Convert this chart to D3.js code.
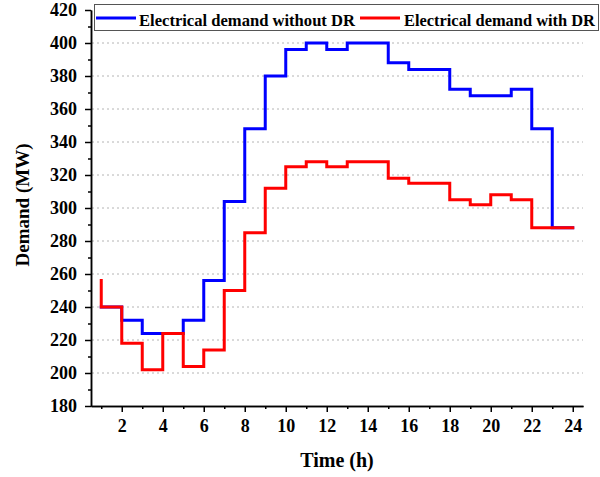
<!DOCTYPE html>
<html><head><meta charset="utf-8">
<script src="https://cdn.jsdelivr.net/npm/d3@7"></script>
<style>html,body{margin:0;padding:0;background:#fff}svg{display:block}</style>
</head><body>
<svg id="c" width="600" height="477"></svg>
<script>
const hours = [1,2,3,4,5,6,7,8,9,10,11,12,13,14,15,16,17,18,19,20,21,22,23,24];
const demandWithoutDR = [240,240,232,224,224,232,256,304,348,380,396,400,396,400,400,388,384,384,372,368,368,372,348,288];
const demandWithDR = [256,240,218,202,224,204,214,250,285,312,325,328,325,328,328,318,315,315,305,302,308,305,288,288];
const xMajorTicks = [2,4,6,8,10,12,14,16,18,20,22,24];
const xMinorTicks = [1,3,5,7,9,11,13,15,17,19,21,23];
const yMajorTicks = [180,200,220,240,260,280,300,320,340,360,380,400,420];
const yMinorTicks = [190,210,230,250,270,290,310,330,350,370,390,410];
const gridValues = [200,220,240,260,280,300,320,340,360,380,400];
const seriesNames = ["Electrical demand without DR","Electrical demand with DR"];
const seriesColors = ["#0000ff","#ff0000"];

const svg = d3.select("#c");
const font = "'Liberation Serif','Times New Roman',serif";
const x = d3.scaleLinear().domain([0.5,24.5]).range([91,583]);
const y = d3.scaleLinear().domain([180,420]).range([406,10]);

// grid
svg.append("g").selectAll("line").data(gridValues).join("line")
  .attr("x1",92).attr("x2",583).attr("y1",d=>y(d)).attr("y2",d=>y(d))
  .attr("stroke","#b4b4b4").attr("stroke-width",1).attr("stroke-dasharray","2,3");

// lines
const line = d3.line().x(d=>x(d[0])).y(d=>y(d[1])).curve(d3.curveStepBefore);
[demandWithoutDR, demandWithDR].forEach((vals,i)=>{
  svg.append("path").datum(hours.map((h,j)=>[h,vals[j]]))
    .attr("d",line).attr("fill","none").attr("stroke",seriesColors[i])
    .attr("stroke-width",3).attr("stroke-linejoin","miter").attr("stroke-linecap","square");
});

// axes
function styleAxis(g){
  g.selectAll(".domain").attr("stroke","#000").attr("stroke-width",1.5);
  g.selectAll(".tick line").attr("stroke","#000").attr("stroke-width",1.5);
  g.selectAll("text").attr("font-family",font).attr("font-weight","bold").attr("font-size","18px").attr("fill","#000");
}
const gy = svg.append("g").attr("transform","translate(91,0)")
  .call(d3.axisLeft(y).tickValues(yMajorTicks).tickSize(6).tickPadding(8).tickSizeOuter(0));
styleAxis(gy);
const gym = svg.append("g").attr("transform","translate(91,0)")
  .call(d3.axisLeft(y).tickValues(yMinorTicks).tickSize(3).tickFormat("").tickSizeOuter(0));
styleAxis(gym);
const gx = svg.append("g").attr("transform","translate(0,406)")
  .call(d3.axisBottom(x).tickValues(xMajorTicks).tickSize(6).tickPadding(7).tickSizeOuter(0));
styleAxis(gx);
const gxm = svg.append("g").attr("transform","translate(0,406)")
  .call(d3.axisBottom(x).tickValues(xMinorTicks).tickSize(3).tickFormat("").tickSizeOuter(0));
styleAxis(gxm);

// titles
svg.append("text").attr("x",337).attr("y",467).attr("text-anchor","middle")
  .attr("font-family",font).attr("font-weight","bold").attr("font-size","20px").text("Time (h)");
svg.append("text").attr("transform","translate(29,205) rotate(-90)").attr("text-anchor","middle")
  .attr("font-family",font).attr("font-weight","bold").attr("font-size","19px").text("Demand (MW)");

// legend
const lg = svg.append("g");
lg.append("rect").attr("x",94.5).attr("y",4.5).attr("width",504).attr("height",26)
  .attr("fill","#fff").attr("stroke","#555").attr("stroke-width",1);
const legendPos = [[96,139,216],[360,404,191]];
seriesNames.forEach((n,i)=>{
  lg.append("line").attr("x1",legendPos[i][0]).attr("x2",legendPos[i][0]+40).attr("y1",18).attr("y2",18)
    .attr("stroke",seriesColors[i]).attr("stroke-width",3);
  const t = lg.append("text").attr("x",legendPos[i][1]).attr("y",25.5)
    .attr("font-family",font).attr("font-weight","bold").attr("font-size","16px").text(n);
  const w = t.node().getComputedTextLength();
  const fs = Math.min(17, 16*legendPos[i][2]/w);
  t.attr("font-size",fs+"px");
});
</script>
</body></html>
